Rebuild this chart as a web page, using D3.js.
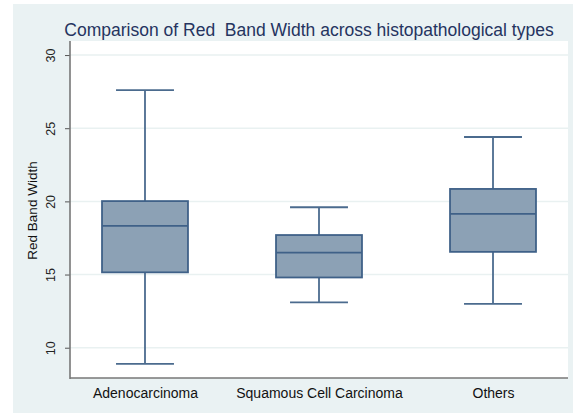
<!DOCTYPE html>
<html>
<head>
<meta charset="utf-8">
<script src="https://cdn.jsdelivr.net/npm/d3@7"></script>
<style>
  html, body { margin: 0; padding: 0; background: #ffffff; }
  svg { display: block; }
</style>
</head>
<body>
<svg id="chart" width="573" height="413"></svg>
<script>
// Box plot summaries per histopathological type
const categories = ["Adenocarcinoma", "Squamous Cell Carcinoma", "Others"];
const lowerWhisker = [8.9, 13.1, 13.0];
const q1 = [15.15, 14.8, 16.55];
const median = [18.32, 16.5, 19.15];
const q3 = [20.02, 17.7, 20.85];
const upperWhisker = [27.6, 19.6, 24.4];
const yTicks = [10, 15, 20, 25, 30];

const titleText = "Comparison of Red  Band Width across histopathological types";
const yLabel = "Red Band Width";

const W = 573, H = 413;
const plot = { left: 70, right: 568, top: 41, bottom: 378 };
const font = "Liberation Sans, Arial, sans-serif";

const svg = d3.select("#chart");

// Outer graph region
svg.append("rect")
  .attr("x", 13).attr("y", 4)
  .attr("width", W - 13).attr("height", H - 4)
  .attr("fill", "#eaf2f3");

// Plot region
svg.append("rect")
  .attr("x", plot.left).attr("y", plot.top)
  .attr("width", plot.right - plot.left).attr("height", plot.bottom - plot.top)
  .attr("fill", "#ffffff");

const y = d3.scaleLinear().domain([7.93, 30.96]).range([plot.bottom, plot.top]);
const x = d3.scalePoint().domain(categories).range([plot.left, plot.right]).padding(0.431);
const boxW = x.step() * 0.494;
const capW = x.step() * 0.333;

// Horizontal grid lines
svg.append("g").selectAll("line")
  .data(yTicks).join("line")
  .attr("x1", plot.left).attr("x2", plot.right)
  .attr("y1", d => y(d)).attr("y2", d => y(d))
  .attr("stroke", "#e9f1f1").attr("stroke-width", 1.5);

// Y axis
const yAxis = svg.append("g")
  .attr("transform", `translate(${plot.left},0)`)
  .call(d3.axisLeft(y).tickValues(yTicks).tickSize(5).tickFormat(d3.format("d")));
yAxis.select(".domain").remove();
yAxis.selectAll(".tick line").attr("stroke", "#555").attr("stroke-width", 1);
yAxis.selectAll(".tick text")
  .attr("font-family", font)
  .attr("font-size", 12.5)
  .attr("fill", "#222")
  .attr("x", null).attr("dy", null)
  .attr("text-anchor", "middle")
  .attr("transform", "translate(-15,0) rotate(-90)");

// X axis labels (no ticks)
const xAxis = svg.append("g")
  .attr("transform", `translate(0,${plot.bottom})`)
  .call(d3.axisBottom(x).tickSize(0).tickPadding(10));
xAxis.select(".domain").remove();
xAxis.selectAll(".tick text")
  .attr("font-family", font)
  .attr("font-size", 14)
  .attr("fill", "#111");

// Axis lines
svg.append("line")
  .attr("x1", plot.left).attr("x2", plot.left)
  .attr("y1", plot.top).attr("y2", plot.bottom + 1)
  .attr("stroke", "#777").attr("stroke-width", 1.6);
svg.append("line")
  .attr("x1", plot.left).attr("x2", plot.right)
  .attr("y1", plot.bottom).attr("y2", plot.bottom)
  .attr("stroke", "#777").attr("stroke-width", 1.6);

// Boxes
const data = categories.map((c, i) => ({
  c, lo: lowerWhisker[i], q1: q1[i], med: median[i], q3: q3[i], hi: upperWhisker[i]
}));
const strokeCol = "#4b6b8e";
const g = svg.append("g").selectAll("g").data(data).join("g");

g.append("line")
  .attr("x1", d => x(d.c)).attr("x2", d => x(d.c))
  .attr("y1", d => y(d.hi)).attr("y2", d => y(d.q3))
  .attr("stroke", strokeCol).attr("stroke-width", 1.8);
g.append("line")
  .attr("x1", d => x(d.c)).attr("x2", d => x(d.c))
  .attr("y1", d => y(d.q1)).attr("y2", d => y(d.lo))
  .attr("stroke", strokeCol).attr("stroke-width", 1.8);
g.append("line")
  .attr("x1", d => x(d.c) - capW / 2).attr("x2", d => x(d.c) + capW / 2)
  .attr("y1", d => y(d.hi)).attr("y2", d => y(d.hi))
  .attr("stroke", strokeCol).attr("stroke-width", 1.8);
g.append("line")
  .attr("x1", d => x(d.c) - capW / 2).attr("x2", d => x(d.c) + capW / 2)
  .attr("y1", d => y(d.lo)).attr("y2", d => y(d.lo))
  .attr("stroke", strokeCol).attr("stroke-width", 1.8);
g.append("rect")
  .attr("x", d => x(d.c) - boxW / 2).attr("width", boxW)
  .attr("y", d => y(d.q3)).attr("height", d => y(d.q1) - y(d.q3))
  .attr("fill", "#8ca1b5").attr("stroke", "#3f6188").attr("stroke-width", 1.8);
g.append("line")
  .attr("x1", d => x(d.c) - boxW / 2).attr("x2", d => x(d.c) + boxW / 2)
  .attr("y1", d => y(d.med)).attr("y2", d => y(d.med))
  .attr("stroke", "#3f6188").attr("stroke-width", 1.8);

// Y axis title
svg.append("text")
  .attr("transform", `translate(37,${(plot.top + plot.bottom) / 2 + 1}) rotate(-90)`)
  .attr("text-anchor", "middle")
  .attr("font-family", font)
  .attr("font-size", 13.5)
  .attr("fill", "#111")
  .text(yLabel);

// Chart title (keeps its double space)
svg.append("text")
  .attr("x", 309).attr("y", 36)
  .attr("text-anchor", "middle")
  .attr("font-family", font)
  .attr("font-size", 17.5)
  .attr("fill", "#253460")
  .style("white-space", "pre")
  .attr("xml:space", "preserve")
  .text(titleText);
</script>
</body>
</html>
